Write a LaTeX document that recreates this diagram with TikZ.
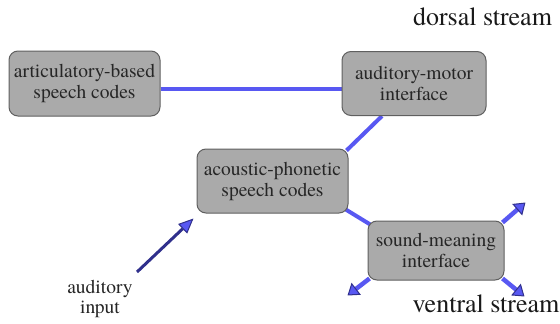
\documentclass[tikz,border=0pt]{standalone}
\usepackage{fontspec}
\newfontfamily\diagramfont{texgyretermes}[Extension=.otf, UprightFont=*-regular]
\usetikzlibrary{arrows.meta,backgrounds}
\definecolor{boxfill}{RGB}{170,170,170}
\definecolor{boxedge}{RGB}{95,95,95}
\definecolor{linkblue}{RGB}{88,88,242}
\definecolor{navy}{RGB}{48,48,140}
\tikzset{
  stagebox/.style={draw=boxedge, line width=1pt, fill=boxfill, rounded corners=9pt,
    align=center, inner sep=0pt, text=black!85,
    font=\diagramfont\fontsize{19.5}{21}\selectfont},
  link/.style={draw=linkblue, line width=4pt},
  outarrow/.style={draw=linkblue, line width=4.5pt,
    -{Triangle[length=11pt,width=15pt,fill=linkblue,color=navy,line width=1pt]}},
  inarrow/.style={draw=navy, line width=3pt,
    -{Triangle[length=15pt,width=13pt,fill=linkblue,color=navy,line width=1pt]}},
  streamtext/.style={font=\diagramfont\fontsize{26}{28}\selectfont, text=black!90},
  inputtext/.style={align=center, font=\diagramfont\fontsize{19.5}{20}\selectfont, text=black!85}
}
\begin{document}
\begin{tikzpicture}[x=1pt,y=-1pt]
  \useasboundingbox (0,0) rectangle (560,324);

  % processing stages
  \node[stagebox, minimum width=151pt, minimum height=65pt] (art) at (84.5,83.5)
    {articulatory-based\\speech codes};
  \node[stagebox, minimum width=144pt, minimum height=64pt] (am) at (414,83.5)
    {auditory-motor\\interface};
  \node[stagebox, minimum width=151pt, minimum height=64pt] (ap) at (272.5,181)
    {acoustic-phonetic\\speech codes};
  \node[stagebox, minimum width=136pt, minimum height=59pt] (sm) at (436,250.5)
    {sound-meaning\\interface};

  % stream labels
  \node[streamtext, anchor=base] (dorsal) at (482.5,25) {dorsal stream};
  \node[streamtext, anchor=base] (ventral) at (486,312) {ventral stream};
  \node[inputtext] (input) at (100,299) {auditory\\input};

  % free ends of the outgoing arrows
  \coordinate (tipNE) at ([xshift=21pt,yshift=18pt]sm.north east);
  \coordinate (tipSE) at ([xshift=20pt,yshift=-16pt]sm.south east);
  \coordinate (tipSW) at ([xshift=-20pt,yshift=-15pt]sm.south west);
  \coordinate (tail) at (137,272);

  \begin{pgfonlayer}{background}
    \draw[link] ([yshift=-5.5pt]art.east) -- ([yshift=-5.5pt]am.west);
    \draw[link] ([xshift=-32pt]am.south) -- ([xshift=-2pt,yshift=-2pt]ap.north east);
    \draw[link] ([xshift=-6pt,yshift=6pt]ap.south east) -- ([xshift=6pt,yshift=-6pt]sm.north west);
    \draw[outarrow] ([xshift=-2pt,yshift=-2pt]sm.north east) -- (tipNE);
    \draw[outarrow] ([xshift=-2pt,yshift=2pt]sm.south east) -- (tipSE);
    \draw[outarrow] ([xshift=2pt,yshift=2pt]sm.south west) -- (tipSW);
  \end{pgfonlayer}
  \draw[inarrow] (tail) -- ([xshift=-3pt,yshift=-5pt]ap.south west);
\end{tikzpicture}
\end{document}
